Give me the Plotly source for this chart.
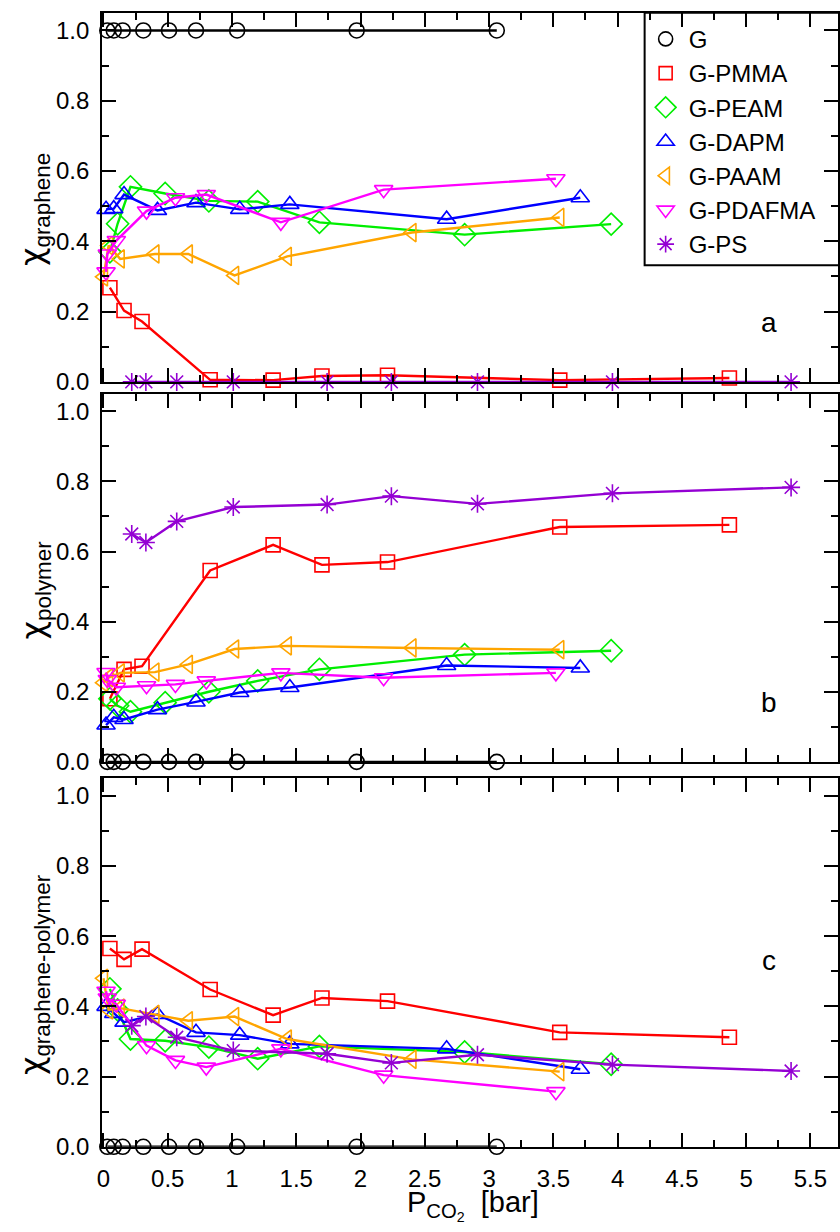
import plotly.graph_objects as go
from plotly.subplots import make_subplots

# ---------------- data ----------------
series_names = ["G", "G-PMMA", "G-PEAM", "G-DAPM", "G-PAAM", "G-PDAFMA", "G-PS"]

x_G = [0.03, 0.08, 0.15, 0.31, 0.51, 0.72, 1.04, 1.97, 3.06]
a_G = [1.0, 1.0, 1.0, 1.0, 1.0, 1.0, 1.0, 1.0, 1.0]
b_G = [0.0, 0.0, 0.0, 0.0, 0.0, 0.0, 0.0, 0.0, 0.0]
c_G = [0.0, 0.0, 0.0, 0.0, 0.0, 0.0, 0.0, 0.0, 0.0]

x_PMMA = [0.05, 0.16, 0.30, 0.83, 1.32, 1.70, 2.21, 3.55, 4.87]
a_PMMA = [0.268, 0.203, 0.172, 0.006, 0.005, 0.017, 0.019, 0.005, 0.011]
b_PMMA = [0.18, 0.264, 0.273, 0.546, 0.619, 0.562, 0.570, 0.670, 0.676]
c_PMMA = [0.565, 0.534, 0.563, 0.448, 0.375, 0.424, 0.415, 0.326, 0.312]

x_PEAM = [0.05, 0.11, 0.21, 0.48, 0.82, 1.20, 1.68, 2.81, 3.95]
a_PEAM = [0.37, 0.45, 0.555, 0.536, 0.515, 0.513, 0.454, 0.419, 0.449]
b_PEAM = [0.18, 0.16, 0.143, 0.169, 0.20, 0.231, 0.264, 0.306, 0.317]
c_PEAM = [0.45, 0.39, 0.307, 0.302, 0.284, 0.251, 0.286, 0.27, 0.235]

x_DAPM = [0.02, 0.08, 0.16, 0.42, 0.72, 1.06, 1.45, 2.67, 3.71]
a_DAPM = [0.491, 0.493, 0.533, 0.488, 0.51, 0.491, 0.505, 0.463, 0.524]
b_DAPM = [0.105, 0.127, 0.121, 0.149, 0.171, 0.198, 0.212, 0.275, 0.268]
c_DAPM = [0.40, 0.38, 0.355, 0.377, 0.326, 0.318, 0.293, 0.279, 0.221]

x_PAAM = [0.0, 0.04, 0.13, 0.40, 0.66, 1.02, 1.43, 2.40, 3.55]
a_PAAM = [0.299, 0.388, 0.35, 0.364, 0.364, 0.303, 0.357, 0.425, 0.468]
b_PAAM = [0.226, 0.24, 0.254, 0.256, 0.278, 0.322, 0.331, 0.325, 0.32]
c_PAAM = [0.48, 0.39, 0.395, 0.377, 0.359, 0.371, 0.307, 0.249, 0.214]

x_PDAFMA = [0.02, 0.03, 0.10, 0.335, 0.56, 0.80, 1.38, 2.18, 3.52]
a_PDAFMA = [0.313, 0.364, 0.402, 0.486, 0.524, 0.533, 0.454, 0.547, 0.578]
b_PDAFMA = [0.255, 0.235, 0.213, 0.217, 0.221, 0.231, 0.254, 0.24, 0.254]
c_PDAFMA = [0.443, 0.424, 0.406, 0.288, 0.246, 0.227, 0.279, 0.204, 0.157]

x_PS = [0.22, 0.33, 0.57, 1.01, 1.74, 2.24, 2.91, 3.96, 5.35]
a_PS = [0.0, 0.0, 0.0, 0.0, 0.0, 0.0, 0.0, 0.0, 0.0]
b_PS = [0.65, 0.626, 0.686, 0.727, 0.734, 0.758, 0.736, 0.766, 0.783]
c_PS = [0.345, 0.371, 0.312, 0.274, 0.265, 0.239, 0.262, 0.234, 0.216]

x_tick_vals = [0, 0.5, 1, 1.5, 2, 2.5, 3, 3.5, 4, 4.5, 5, 5.5]
y_tick_vals = [0.0, 0.2, 0.4, 0.6, 0.8, 1.0]
panel_letters = ["a", "b", "c"]
CHI = '<span style="font-family:DejaVu Sans">χ</span>'
y_titles = [CHI + "<sub>graphene</sub>", CHI + "<sub>polymer</sub>", CHI + "<sub>graphene-polymer</sub>"]
x_title = "P<sub>CO<sub>2</sub></sub>  [bar]"

# ---------------- styles ----------------
FONT = "Liberation Sans, Arial, Helvetica, sans-serif"
styles = {
    "G":        dict(color="#000000", symbol="circle-open", size=15),
    "G-PMMA":   dict(color="#ff0000", symbol="square-open", size=14),
    "G-PEAM":   dict(color="#00ee00", symbol="diamond-open", size=17),
    "G-DAPM":   dict(color="#0000ff", symbol="triangle-up-open", size=16),
    "G-PAAM":   dict(color="#ffa500", symbol="triangle-left-open", size=16),
    "G-PDAFMA": dict(color="#ff00ff", symbol="triangle-down-open", size=16),
    "G-PS":     dict(color="#9400d3", symbol="asterisk-open", size=15),
}
data = {
    "G": (x_G, [a_G, b_G, c_G]),
    "G-PMMA": (x_PMMA, [a_PMMA, b_PMMA, c_PMMA]),
    "G-PEAM": (x_PEAM, [a_PEAM, b_PEAM, c_PEAM]),
    "G-DAPM": (x_DAPM, [a_DAPM, b_DAPM, c_DAPM]),
    "G-PAAM": (x_PAAM, [a_PAAM, b_PAAM, c_PAAM]),
    "G-PDAFMA": (x_PDAFMA, [a_PDAFMA, b_PDAFMA, c_PDAFMA]),
    "G-PS": (x_PS, [a_PS, b_PS, c_PS]),
}

W, H = 840, 1232
fig = make_subplots(rows=3, cols=1)

for name in series_names:
    st = styles[name]
    xs, ys_list = data[name]
    for r, ys in enumerate(ys_list, start=1):
        fig.add_trace(go.Scatter(
            x=xs, y=ys, mode="lines+markers", showlegend=False,
            line=dict(color=st["color"], width=2.4),
            marker=dict(symbol=st["symbol"], size=st["size"], color=st["color"],
                        line=dict(color=st["color"], width=1.6)),
            cliponaxis=False,
        ), row=r, col=1)
    # legend entry (marker only)
    fig.add_trace(go.Scatter(
        x=[None], y=[None], mode="markers", name=name, legendgroup=name,
        marker=dict(symbol=st["symbol"], size=st["size"] - 1, color=st["color"],
                    line=dict(color=st["color"], width=1.6)),
    ), row=1, col=1)

# panel geometry in pixels
left_px, right_px = 98, 840
panels_px = [(13, 386), (398, 770), (786.5, 1159)]
x_range = [-0.01, 5.715]
y_range = [0, 1.05]

for i, (top, bot) in enumerate(panels_px, start=1):
    fig.update_xaxes(
        row=i, col=1,
        domain=[left_px / W, right_px / W], range=x_range,
        tickvals=x_tick_vals, ticks="inside", ticklen=14, tickwidth=2, tickcolor="black",
        minor=dict(dtick=0.25, tick0=0, ticks="inside", ticklen=7, tickwidth=2, tickcolor="black"),
        showline=True, linewidth=2, linecolor="black", mirror="allticks",
        showgrid=False, zeroline=False, showticklabels=(i == 3),
        tickfont=dict(family=FONT, size=24, color="black"), ticklabelstandoff=9,
    )
    fig.update_yaxes(
        row=i, col=1,
        domain=[(H - bot) / H, (H - top) / H], range=y_range,
        tickvals=y_tick_vals, tickformat=".1f", ticks="inside", ticklen=14, tickwidth=2, tickcolor="black",
        minor=dict(dtick=0.1, tick0=0, ticks="inside", ticklen=7, tickwidth=2, tickcolor="black"),
        showline=True, linewidth=2, linecolor="black", mirror="allticks",
        showgrid=False, zeroline=False,
        tickfont=dict(family=FONT, size=24, color="black"), ticklabelstandoff=6,
    )

annotations = []
letter_y = [0.17, 0.17, 0.53]
for i, (top, bot) in enumerate(panels_px):
    xref = "x" if i == 0 else f"x{i+1}"
    yref = "y" if i == 0 else f"y{i+1}"
    annotations.append(dict(x=5.175, y=letter_y[i], xref=xref, yref=yref, text=panel_letters[i],
                            showarrow=False, font=dict(family=FONT, size=28, color="black"),
                            xanchor="center", yanchor="middle"))
    annotations.append(dict(x=30 / W, y=(H - (top + bot) / 2 - 12) / H, xref="paper", yref="paper",
                            text=y_titles[i], textangle=-90, showarrow=False,
                            font=dict(family=FONT, size=32, color="black"),
                            xanchor="center", yanchor="middle"))
annotations.append(dict(x=403 / W, y=(H - 1197) / H, xref="paper", yref="paper", text=x_title,
                        showarrow=False, font=dict(family=FONT, size=29, color="black"),
                        xanchor="left", yanchor="top"))

# legend frame (top coincides with the top spine, right side runs past the figure edge)
leg_left, leg_top, leg_bot = 645, 13, 268
shapes = [dict(type="rect", xref="paper", yref="paper",
               x0=leg_left / W, x1=1.02, y0=(H - leg_bot) / H, y1=(H - leg_top) / H,
               line=dict(color="black", width=2), fillcolor="rgba(0,0,0,0)", layer="above")]

fig.update_layout(
    width=W, height=H, margin=dict(l=0, r=0, t=0, b=0),
    paper_bgcolor="white", plot_bgcolor="white",
    annotations=annotations, shapes=shapes,
    showlegend=True,
    legend=dict(x=643 / W, y=(H - 17) / H, xanchor="left", yanchor="top",
                borderwidth=0, bgcolor="rgba(0,0,0,0)",
                font=dict(family=FONT, size=24, color="black"),
                tracegroupgap=0, itemwidth=36),
)

fig.write_html("out.html")
